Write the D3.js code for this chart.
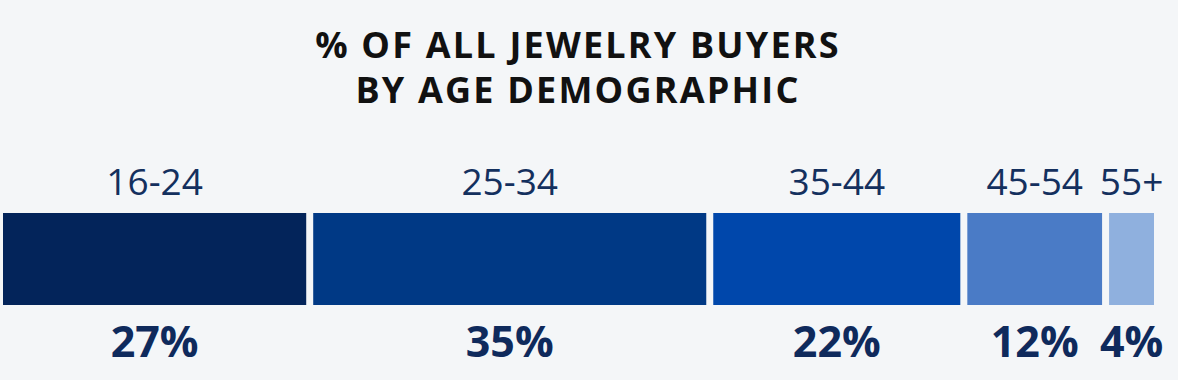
<!DOCTYPE html>
<html>
<head>
<meta charset="utf-8">
<script src="https://cdn.jsdelivr.net/npm/d3@7"></script>
<style>
  html, body { margin: 0; padding: 0; background: #f4f6f8; }
  svg { display: block; }
</style>
</head>
<body>
<svg id="chart"></svg>
<script>
// data
const ageGroups = ['16-24', '25-34', '35-44', '45-54', '55+'];
const shares = [27, 35, 22, 12, 4];
const barColors = ['#03245a', '#003985', '#0047ab', '#4a7bc6', '#8fb0de'];
const titleLines = ['% OF ALL JEWELRY BUYERS', 'BY AGE DEMOGRAPHIC'];

const width = 1178, height = 380;
const gap = 7;
const barTop = 213, barH = 92;

const svg = d3.select('#chart').attr('width', width).attr('height', height);

// cumulative positions
let cum = 0;
const rows = ageGroups.map((g, i) => {
  const r = { group: g, value: shares[i], start: cum, color: barColors[i] };
  cum += shares[i];
  return r;
});

// the usable width excludes the gaps between segments
const x = d3.scaleLinear()
  .domain([0, d3.sum(shares)])
  .range([3, 1154 - gap * (rows.length - 1)]);

const seg = svg.selectAll('.seg')
  .data(rows)
  .enter()
  .append('g')
  .attr('class', 'seg')
  .attr('transform', (d, i) => `translate(${x(d.start) + i * gap},0)`);

seg.append('rect')
  .attr('x', 0)
  .attr('y', barTop)
  .attr('width', d => x(d.start + d.value) - x(d.start))
  .attr('height', barH)
  .attr('fill', d => d.color);

// age label above
seg.append('text')
  .attr('x', d => (x(d.start + d.value) - x(d.start)) / 2)
  .attr('y', 195)
  .attr('text-anchor', 'middle')
  .attr('fill', '#14305e')
  .style('font-family', 'Open Sans')
  .style('font-size', '37px')
  .text(d => d.group);

// percentage below
seg.append('text')
  .attr('x', d => (x(d.start + d.value) - x(d.start)) / 2)
  .attr('y', 357)
  .attr('text-anchor', 'middle')
  .attr('fill', '#0f2a5c')
  .style('font-family', 'Open Sans')
  .style('font-weight', 'bold')
  .style('font-size', '43px')
  .text(d => d.value + '%');

// title
svg.selectAll('.title')
  .data(titleLines)
  .enter()
  .append('text')
  .attr('class', 'title')
  .attr('x', 578)
  .attr('y', (d, i) => 58 + i * 45)
  .attr('text-anchor', 'middle')
  .attr('fill', '#111')
  .style('font-family', 'Open Sans')
  .style('font-weight', 'bold')
  .style('font-size', '36px')
  .style('letter-spacing', '2.2px')
  .text(d => d);
</script>
</body>
</html>
